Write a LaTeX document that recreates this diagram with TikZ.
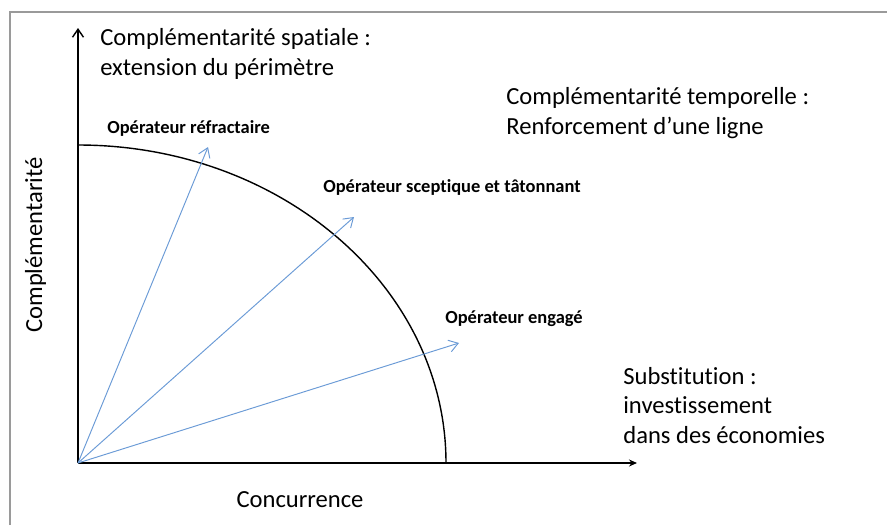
\documentclass[tikz,border=0pt]{standalone}
\usepackage{fontspec}
\setmainfont{Carlito}[Ligatures=NoCommon]
\usetikzlibrary{arrows.meta, positioning, calc}
\definecolor{cOPE}{HTML}{6B9BD6}
\definecolor{cFRM}{HTML}{9A9A9A}

\begin{document}
\begin{tikzpicture}[
  x=0.02cm, y=0.02cm,
  txt/.style={font=\fontsize{14}{16.6}\selectfont, align=left, inner sep=0pt},
  lbl/.style={font=\fontsize{10.5}{12}\selectfont\bfseries, inner sep=0pt},
  axe/.style={-{Stealth[length=1.6mm, width=1.4mm]}, line width=0.8pt},
  ope/.style={-{Straight Barb[length=1.8mm, width=2.4mm]}, cOPE, line width=0.55pt}
]
\useasboundingbox (0,0) rectangle (887,-525);
\draw[cFRM, line width=1.1pt] (10,-525) -- (10,-12) -- (887,-12);

% axes
\coordinate (o) at (78,-463);
\coordinate (ytip) at (78,-28);
\coordinate (xtip) at (637,-463);
\draw[line width=0.8pt, -{Straight Barb[length=1.6mm, width=2.2mm]}] (o) -- (ytip);
\draw[axe] (o) -- (xtip);
\draw[line width=0.8pt] (78,-145) arc[start angle=90, end angle=0, x radius=368, y radius=318];

% operateurs
\coordinate (e1) at (208,-147);
\coordinate (e2) at (354,-217);
\coordinate (e3) at (459,-343);
\draw[ope] (o) -- (e1);
\draw[ope] (o) -- (e2);
\draw[ope] (o) -- (e3);
\node[lbl, anchor=base west] (refr) at (107,-133) {Opérateur réfractaire};
\node[lbl, anchor=base west] (scep) at (323,-192) {Opérateur sceptique et tâtonnant};
\node[lbl, anchor=base west] (eng) at (445,-323) {Opérateur engagé};

% textes (ancre = ligne de base de la derniere ligne)
\node[txt, anchor=base west] (spat) at (100,-75) {Complémentarité spatiale :\\extension du périmètre};
\node[txt, anchor=base west] (temp) at (506,-134) {Complémentarité temporelle :\\Renforcement d’une ligne};
\node[txt, anchor=base west] (subs) at (623,-443) {Substitution :\\investissement\\dans des économies};
\node[txt, anchor=base] (conc) at (300,-507) {Concurrence};
\node[txt, anchor=base, rotate=90] (comp) at (42,-245) {Complémentarité};
\end{tikzpicture}
\end{document}
